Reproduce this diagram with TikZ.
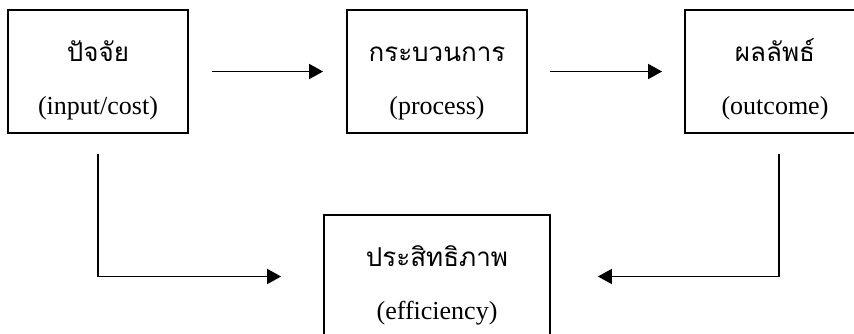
\documentclass[tikz,border=0pt]{standalone}
\usepackage{fontspec}
\setmainfont{Liberation Serif}
\newfontfamily\thaifont[Script=Thai]{Loma}
\usetikzlibrary{arrows.meta}
\tikzset{
  x=1pt, y=1pt,
  box/.style={draw, line width=1.8pt, minimum width=180pt, minimum height=123pt, inner sep=0pt},
  wbox/.style={box, minimum width=226pt},
  th/.style={anchor=base, inner sep=0pt, font=\thaifont\fontsize{26}{30}\selectfont},
  en/.style={anchor=base, inner sep=0pt, font=\fontsize{26}{30}\selectfont},
  arr/.style={line width=1.8pt, -{Triangle[length=14pt,width=15pt]}}
}
\begin{document}
\begin{tikzpicture}
\fill[white] (0,0) rectangle (854,-333);
\clip (0,0) rectangle (854,-333);
\useasboundingbox (0,0) rectangle (854,-333);
% boxes
\node[box] (b1) at (98,-71.5) {};
\node[box] (b2) at (437,-71.5) {};
\node[box] (b3) at (775,-71.5) {};
\node[wbox] (b4) at (437,-276.5) {};
% texts
\node[th] (t1) at ([yshift=-52pt]b1.north) {ปัจจัย};
\node[en] (e1) at ([yshift=-105pt]b1.north) {(input/cost)};
\node[th] (t2) at ([yshift=-52pt]b2.north) {กระบวนการ};
\node[en] (e2) at ([yshift=-105pt]b2.north) {(process)};
\node[th] (t3) at ([yshift=-52pt]b3.north) {ผลลัพธ์};
\node[en] (e3) at ([yshift=-105pt]b3.north) {(outcome)};
\node[th] (t4) at ([yshift=-52pt]b4.north) {ประสิทธิภาพ};
\node[en] (e4) at ([yshift=-105pt]b4.north) {(efficiency)};
% connectors
\draw[arr] ([xshift=23pt]b1.east) -- ([xshift=-23pt]b2.west);
\draw[arr] ([xshift=22pt]b2.east) -- ([xshift=-22pt]b3.west);
\draw[arr] ([yshift=-20pt]b1.south) |- ([xshift=-42pt]b4.west);
\draw[arr] ([xshift=4pt,yshift=-20pt]b3.south) |- ([xshift=47pt]b4.east);
\end{tikzpicture}
\end{document}
